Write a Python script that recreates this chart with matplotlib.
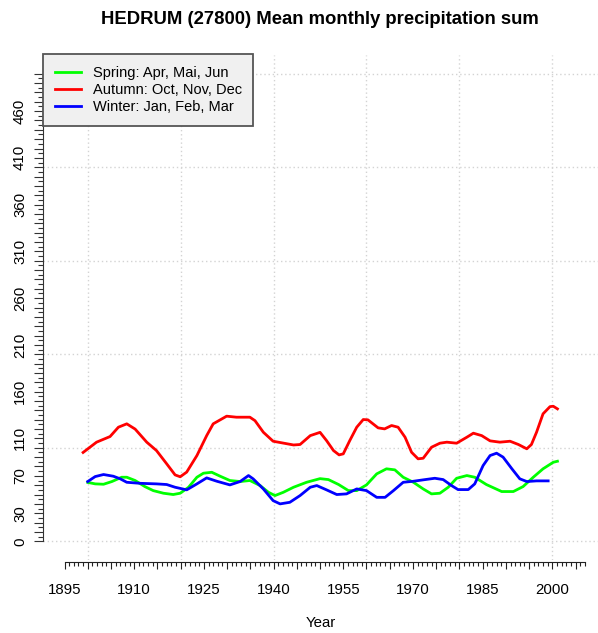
import matplotlib
matplotlib.use("Agg")
import matplotlib.pyplot as plt
from matplotlib.ticker import FixedLocator, FuncFormatter

plt.rcParams['font.family'] = ['Liberation Sans', 'DejaVu Sans']

title = "HEDRUM (27800) Mean monthly precipitation sum"
xlabel = "Year"

# Autumn: Oct, Nov, Dec (red)
autumn_year = [1899, 1901.9, 1904.8, 1906.6, 1908.4, 1910.2, 1912.7, 1914.8, 1917, 1918.8,
               1919.9, 1921.3, 1923.5, 1925.6, 1927, 1929.9, 1932, 1934.9, 1936, 1937.8,
               1939.9, 1942.1, 1944.3, 1945.7, 1947.9, 1950, 1951.4, 1952.9, 1954.1, 1955,
               1956.4, 1957.9, 1959.3, 1960.3, 1962.5, 1963.9, 1965.4, 1966.8, 1968.3, 1969.7,
               1971.1, 1972.2, 1974, 1975.8, 1977.3, 1979.4, 1981.6, 1983, 1984.8, 1986.6,
               1988.7, 1990.9, 1992.7, 1994.5, 1995.5, 1996.6, 1998, 1999.5, 2000.2, 2001.1]
autumn_val = [95, 106, 112, 122, 125.6, 120, 106, 97, 82.8, 71,
              69, 74, 91.7, 113, 125.6, 133.8, 132.7, 132.7, 129, 116.6,
              107, 105, 103, 103.5, 113, 116.5, 107.7, 97, 92.4, 93.5,
              107.7, 122, 130.2, 129.9, 121.3, 120.2, 123.8, 122, 111.3, 95.2,
              88.2, 88.8, 100.6, 104.9, 106, 104.9, 111.3, 115.6, 113, 107.4,
              106, 107, 103.5, 98.9, 103.5, 116.6, 136.3, 144, 144.4, 141.6]

# Winter: Jan, Feb, Mar (blue)
winter_year = [1900, 1901.6, 1903.4, 1905.5, 1907, 1908.4, 1911.3, 1914.8, 1917, 1918.8,
               1921.3, 1923.5, 1925.6, 1927.8, 1930.6, 1932.8, 1934.6, 1935.6, 1937.8, 1939.9,
               1941.4, 1943.5, 1945.7, 1947.9, 1949.3, 1951.4, 1953.6, 1955.7, 1957.9, 1960,
               1962.2, 1964, 1965.8, 1967.9, 1970.1, 1972.2, 1974.7, 1976.5, 1978.3, 1979.7,
               1981.9, 1983.3, 1985.1, 1986.6, 1988, 1989.4, 1991.3, 1993, 1994.5, 1996.6,
               1999.1]
winter_val = [63.9, 69.2, 71.4, 69.6, 66.8, 63.1, 62, 61.4, 60.7, 57.8,
              55, 61.4, 67.8, 64.2, 60.3, 63.9, 70.3, 66.8, 56, 43.5,
              40, 41.7, 48.9, 57.8, 59.6, 55, 50, 50.7, 56, 54.2,
              47, 47, 54.2, 63.1, 64.2, 65.7, 67.4, 66, 59.6, 55.3,
              55.3, 61.4, 81, 91.7, 94.2, 90, 77.5, 66.8, 63.9, 64.6,
              64.6]

# Spring: Apr, Mai, Jun (green)
spring_year = [1900, 1901.6, 1903.4, 1905.2, 1907.3, 1908.4, 1910.2, 1912.3, 1914.1, 1916.3,
               1918.4, 1919.9, 1921.7, 1923.5, 1924.9, 1926.7, 1928.5, 1930.6, 1932.8, 1934.9,
               1937.1, 1938.9, 1940.3, 1942.1, 1944.3, 1947.1, 1950, 1951.8, 1954, 1956.1,
               1957.9, 1960, 1962.2, 1964.3, 1966.1, 1967.9, 1970.1, 1972.2, 1974, 1975.8,
               1977.6, 1979.4, 1981.6, 1983.3, 1985.8, 1989.1, 1991.6, 1993.7, 1995.9, 1998,
               2000.2, 2001.1]
spring_val = [63, 61.4, 61, 63.9, 68.5, 68.5, 65, 58.5, 54.2, 51.4,
              50, 51.4, 57.8, 68.5, 72.8, 73.8, 69.6, 65, 63.9, 65,
              59.6, 52.4, 48.9, 52.4, 57.8, 63.1, 67, 66, 60.7, 54.2,
              54.2, 60.3, 72.1, 77.5, 76.4, 68.5, 63.1, 56, 50.7, 51.4,
              57.8, 67.4, 70.3, 68.5, 60.7, 53.2, 53.2, 58.5, 68.5, 77.5,
              84.5, 85.6]

series_labels = ["Spring: Apr, Mai, Jun", "Autumn: Oct, Nov, Dec", "Winter: Jan, Feb, Mar"]
series_colors = ["#00FF00", "#FF0000", "#0000FF"]

ytick_labels = [0, 30, 70, 110, 160, 210, 260, 310, 360, 410, 460]
xtick_labels = [1895, 1910, 1925, 1940, 1955, 1970, 1985, 2000]

W, H = 598, 633
fig = plt.figure(figsize=(W / 100, H / 100), dpi=100)
ax = fig.add_axes([43 / W, 1 - 560 / H, 555 / W, 505 / H])
ax.set_xlim(1890.37, 2009.83)
ax.set_ylim(-20, 520)

# grid
for gx in range(1900, 2001, 20):
    ax.axvline(gx, color='#D3D3D3', lw=1.0, ls=(0, (1, 2)), zorder=0)
for gy in range(0, 501, 100):
    ax.axhline(gy, color='#D3D3D3', lw=1.0, ls=(0, (1, 2)), zorder=0)

ax.plot(spring_year, spring_val, color=series_colors[0], lw=2.0, label=series_labels[0], zorder=3)
ax.plot(autumn_year, autumn_val, color=series_colors[1], lw=2.0, label=series_labels[1], zorder=3)
ax.plot(winter_year, winter_val, color=series_colors[2], lw=2.0, label=series_labels[2], zorder=3)

for s in ['top', 'right']:
    ax.spines[s].set_visible(False)
ax.spines['left'].set_bounds(0, 500)
ax.spines['left'].set_color('#333333')
ax.spines['bottom'].set_position(('outward', 1.5))
ax.spines['bottom'].set_bounds(1895, 2007)
ax.spines['bottom'].set_color('#222222')

# y ticks
ax.yaxis.set_major_locator(FixedLocator(list(range(0, 501, 10))))
ax.yaxis.set_minor_locator(FixedLocator(list(range(5, 500, 10))))
ax.yaxis.set_major_formatter(FuncFormatter(lambda v, p: str(int(round(v))) if int(round(v)) in ytick_labels else ""))
ax.tick_params(axis='y', which='major', length=6.5, width=0.8, color='#333333', pad=5,
               labelsize=10.8, labelrotation=90)
ax.tick_params(axis='y', which='minor', length=3.6, width=0.8, color='#333333')
for lab in ax.get_yticklabels():
    lab.set_va('center')

# x ticks
ax.xaxis.set_major_locator(FixedLocator(list(range(1895, 2006, 5))))
ax.xaxis.set_minor_locator(FixedLocator([y for y in range(1895, 2008) if y % 5 != 0]))
ax.xaxis.set_major_formatter(FuncFormatter(lambda v, p: str(int(round(v))) if int(round(v)) in xtick_labels else ""))
ax.tick_params(axis='x', which='major', length=5, width=0.8, color='#222222', pad=10, labelsize=10.8)
ax.tick_params(axis='x', which='minor', length=2.9, width=0.8, color='#222222')

ax.set_xlabel(xlabel, fontsize=10.8, labelpad=13.5)
fig.text(320 / W, 1 - 20 / H, title, ha='center', va='center', fontsize=13.3, fontweight='bold')

leg = ax.legend(loc='upper left', bbox_to_anchor=(0, 1.002), borderaxespad=0, fancybox=False,
                facecolor='#F0F0F0', edgecolor='#555555', framealpha=1, fontsize=10.5,
                handlelength=1.8, handletextpad=0.8, labelspacing=0.22, borderpad=0.8)
leg.get_frame().set_linewidth(1.3)
for line in leg.get_lines():
    line.set_linewidth(2.0)

fig.savefig("out.png", dpi=100)
